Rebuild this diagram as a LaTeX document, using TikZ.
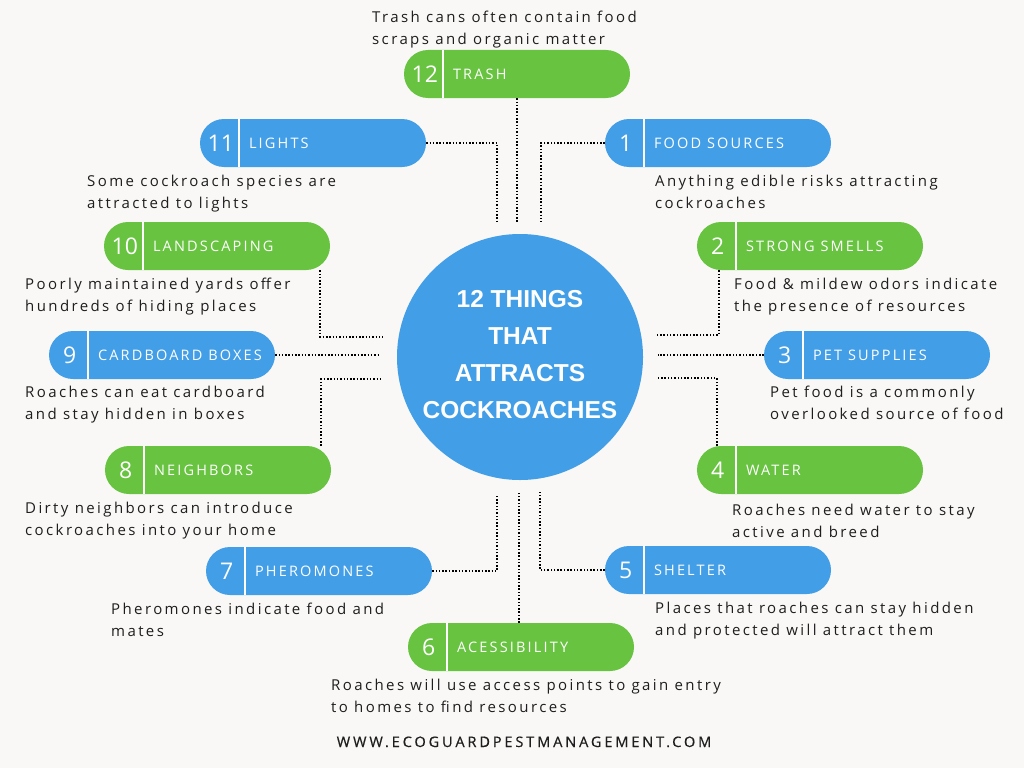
\documentclass[tikz,border=0pt]{standalone}
\usepackage{fontspec}
\setmainfont{Open Sans}
\newfontfamily\descfont{Open Sans}[LetterSpace=16]
\newfontfamily\labfont{Open Sans}[LetterSpace=15]
\newfontfamily\numfont{Open Sans}
\newfontfamily\titlefont{Liberation Sans}
\newfontfamily\urlfont{Open Sans}[LetterSpace=20,FakeBold=0.6]
\definecolor{pillblue}{RGB}{66,158,230}
\definecolor{pillgreen}{RGB}{103,195,64}
\definecolor{bgc}{RGB}{249,248,246}
\definecolor{ink}{RGB}{30,30,30}
\newcommand\pillnode[6]{%
  \node[pill, fill=#4] (#1) at ({#2+113},#3) {};
  \draw[white, line width=1.8pt] ([xshift=39pt]#1.north west) -- ([xshift=39pt]#1.south west);
  \node[numtxt] (#1num) at ([xshift=21pt]#1.west) {#5};
  \node[labtxt] (#1lab) at ([xshift=49pt]#1.west) {#6};
}
\begin{document}
\begin{tikzpicture}[x=1pt,y=-1pt,
  pill/.style={rectangle, rounded corners=24pt, minimum width=226pt, minimum height=48pt, inner sep=0pt, draw=none},
  numtxt/.style={text=white, font=\numfont\fontsize{23}{23}\selectfont, inner sep=0pt},
  labtxt/.style={text=white, font=\labfont\fontsize{14.5}{15}\selectfont, anchor=west, inner sep=0pt},
  desc/.style={text=ink, font=\descfont\fontsize{15}{22}\selectfont, align=left, anchor=base west, inner sep=0pt},
  conn/.style={draw=black, line width=1.5pt, dash pattern=on 1.5pt off 1.8pt}]
\useasboundingbox (0,0) rectangle (1024,768);
\fill[bgc] (0,0) rectangle (1024,768);

% hub
\node[circle, fill=pillblue, minimum size=246pt, inner sep=0pt] (hub) at (520,357) {};
\node[text=white, font=\titlefont\bfseries\fontsize{24.5}{37}\selectfont, align=center, anchor=base, inner sep=0pt] (title) at (520,418) {12 THINGS\\THAT\\ATTRACTS\\COCKROACHES};

% pills
\pillnode{p12}{404}{74}{pillgreen}{12}{TRASH}
\pillnode{p11}{200}{143}{pillblue}{11}{LIGHTS}
\pillnode{p1}{605}{143}{pillblue}{1}{FOOD SOURCES}
\pillnode{p10}{104}{246}{pillgreen}{10}{LANDSCAPING}
\pillnode{p2}{697}{246}{pillgreen}{2}{STRONG SMELLS}
\pillnode{p9}{49}{355}{pillblue}{9}{CARDBOARD BOXES}
\pillnode{p3}{764}{355}{pillblue}{3}{PET SUPPLIES}
\pillnode{p8}{105}{470}{pillgreen}{8}{NEIGHBORS}
\pillnode{p4}{697}{470}{pillgreen}{4}{WATER}
\pillnode{p7}{206}{571}{pillblue}{7}{PHEROMONES}
\pillnode{p5}{605}{570}{pillblue}{5}{SHELTER}
\pillnode{p6}{408}{647}{pillgreen}{6}{ACESSIBILITY}

% descriptions (anchor = baseline of the last line)
\node[desc] (d12) at (372,45) {Trash cans often contain food\\scraps and organic matter};
\node[desc] (d11) at (87,208) {Some cockroach species are\\attracted to lights};
\node[desc] (d1) at (655,208) {Anything edible risks attracting\\cockroaches};
\node[desc] (d10) at (25,311) {Poorly maintained yards offer\\hundreds of hiding places};
\node[desc] (d2) at (734,311) {Food \& mildew odors indicate\\the presence of resources};
\node[desc] (d9) at (25,419) {Roaches can eat cardboard\\and stay hidden in boxes};
\node[desc] (d3) at (770,419) {Pet food is a commonly\\overlooked source of food};
\node[desc] (d8) at (25,535) {Dirty neighbors can introduce\\cockroaches into your home};
\node[desc] (d4) at (732,537) {Roaches need water to stay\\active and breed};
\node[desc] (d7) at (111,636) {Pheromones indicate food and\\mates};
\node[desc] (d5) at (655,635) {Places that roaches can stay hidden\\and protected will attract them};
\node[desc] (d6) at (331,712) {Roaches will use access points to gain entry\\to homes to find resources};

\node[text=ink, font=\urlfont\fontsize{14.5}{15}\selectfont, anchor=base, inner sep=0pt] (url) at (524,747) {WWW.ECOGUARDPESTMANAGEMENT.COM};

% connector ends
\coordinate (c12) at (517,222);
\coordinate (c11) at (497,222);
\coordinate (c1) at (541,222);
\coordinate (c10) at (383,337);
\coordinate (c2) at (657,335);
\coordinate (c9) at (380,355);
\coordinate (c3) at (658,355);
\coordinate (c8) at (383,379);
\coordinate (c4) at (657,378);
\coordinate (c7) at (497,494);
\coordinate (c6) at (519,493);
\coordinate (c5) at (540,492);

\draw[conn] (p12.south) -- (c12);
\draw[conn] (p11.east) -| (c11);
\draw[conn] (p1.west) -| (c1);
\draw[conn] ([xshift=-10pt]p10.south east) |- (c10);
\draw[conn] ([xshift=22pt]p2.south west) |- (c2);
\draw[conn] (p9.east) -- (c9);
\draw[conn] (p3.west) -- (c3);
\draw[conn] ([xshift=-10pt]p8.north east) |- (c8);
\draw[conn] ([xshift=20pt]p4.north west) |- (c4);
\draw[conn] (p7.east) -| (c7);
\draw[conn] (p6.north -| c6) -- (c6);
\draw[conn] (p5.west) -| (c5);
\end{tikzpicture}
\end{document}
